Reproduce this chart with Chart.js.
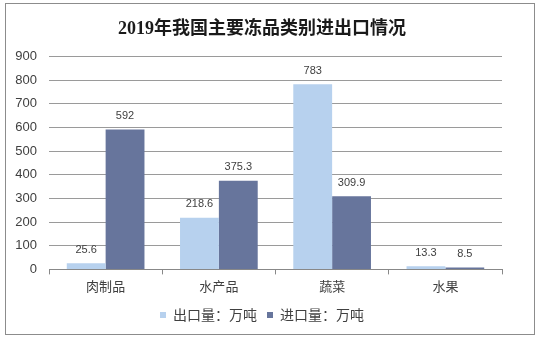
<!DOCTYPE html>
<html>
<head>
    <meta charset="UTF-8">
    <title>2019年我国主要冻品类别进出口情况</title>
    <script src="https://cdn.jsdelivr.net/npm/chart.js"></script>
    <style>
        body { margin: 0; background: #fff; }
        #wrap {
            position: relative;
            width: 540px;
            height: 338px;
        }
        #frame {
            position: absolute;
            left: 5px; top: 3px;
            width: 528px; height: 330px;
            border: 1px solid #8c8c8c;
            pointer-events: none;
        }
    </style>
</head>
<body>
    <div id="wrap">
        <canvas id="myChart" width="540" height="338"></canvas>
        <div id="frame"></div>
    </div>
    <script>
        const categories = ['肉制品', '水产品', '蔬菜', '水果'];
        const exportValues = [25.6, 218.6, 783, 13.3];
        const importValues = [592, 375.3, 309.9, 8.5];
        const seriesNames = ['出口量：万吨', '进口量：万吨'];

        // value labels drawn above each bar
        const barLabels = {
            id: 'barLabels',
            afterDatasetsDraw(chart) {
                const ctx = chart.ctx;
                ctx.save();
                ctx.font = '11px "Liberation Sans", Arial, sans-serif';
                ctx.fillStyle = '#404040';
                ctx.textAlign = 'center';
                ctx.textBaseline = 'bottom';
                chart.data.datasets.forEach((ds, i) => {
                    chart.getDatasetMeta(i).data.forEach((bar, j) => {
                        ctx.fillText(String(ds.data[j]), bar.x, bar.y - 8);
                    });
                });
                ctx.restore();
            }
        };

        const ctx = document.getElementById('myChart').getContext('2d');
        const myChart = new Chart(ctx, {
            type: 'bar',
            data: {
                labels: categories,
                datasets: [{
                    label: seriesNames[0],
                    data: exportValues,
                    backgroundColor: '#b7d1ee',
                    categoryPercentage: 0.686,
                    barPercentage: 1
                }, {
                    label: seriesNames[1],
                    data: importValues,
                    backgroundColor: '#67759c',
                    categoryPercentage: 0.686,
                    barPercentage: 1
                }]
            },
            options: {
                responsive: false,
                animation: false,
                layout: { padding: { left: 4, right: 20, top: 6, bottom: 6 } },
                plugins: {
                    title: {
                        display: true,
                        text: '2019年我国主要冻品类别进出口情况',
                        color: '#1a1a1a',
                        font: { size: 18, weight: 'bold', family: '"Liberation Serif", "Noto Sans CJK SC", serif' },
                        padding: { top: 13, bottom: 16 }
                    },
                    legend: {
                        position: 'bottom',
                        labels: {
                            color: '#404040',
                            boxWidth: 6,
                            boxHeight: 6,
                            padding: 10,
                            font: { size: 14, family: '"Noto Sans CJK SC", sans-serif' }
                        }
                    },
                    tooltip: { enabled: false }
                },
                scales: {
                    x: {
                        grid: {
                            offset: true,
                            drawOnChartArea: false,
                            tickLength: 5,
                            color: '#888'
                        },
                        border: { color: '#888' },
                        ticks: {
                            color: '#404040',
                            padding: 4,
                            font: { size: 13, family: '"Noto Sans CJK SC", sans-serif' }
                        }
                    },
                    y: {
                        min: 0,
                        max: 900,
                        afterFit(scale) { scale.width = 45; },
                        ticks: {
                            stepSize: 100,
                            color: '#404040',
                            padding: 12,
                            font: { size: 13, family: '"Liberation Sans", Arial, sans-serif' }
                        },
                        grid: { color: '#9a9a9a', drawTicks: false },
                        border: { display: false }
                    },
                    // empty right-hand axis, only reserves space
                    yRight: {
                        position: 'right',
                        min: 0,
                        max: 900,
                        afterFit(scale) { scale.width = 18; },
                        ticks: { display: false },
                        grid: { drawOnChartArea: false, drawTicks: false },
                        border: { display: false }
                    }
                }
            },
            plugins: [barLabels]
        });
    </script>
</body>
</html>
